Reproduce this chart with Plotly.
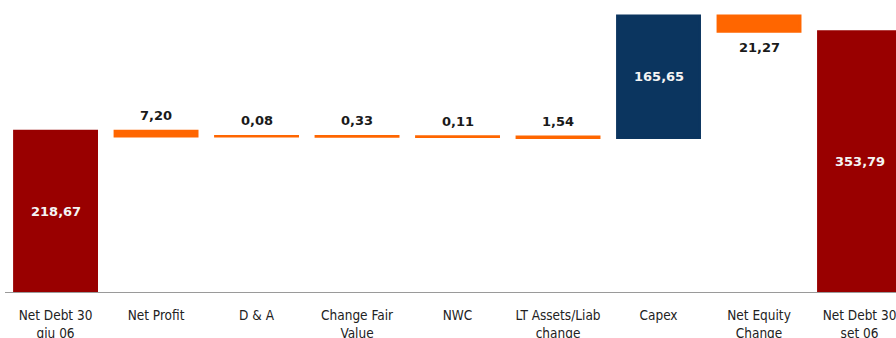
import plotly.graph_objects as go

# Net debt bridge, 30 giu 06 -> 30 set 06 (EUR m)
categories = ["Net Debt 30<br>giu 06", "Net Profit", "D & A", "Change Fair<br>Value", "NWC",
              "LT Assets/Liab<br>change", "Capex", "Net Equity<br>Change", "Net Debt 30<br>set 06"]
opening_debt = 218.67
movements = [-7.20, -0.08, -0.33, -0.11, -1.54, 165.65, -21.27]
closing_debt = 353.79

RED = "#990000"
ORANGE = "#FF6600"
NAVY = "#0B355F"

def fmt(v):
    return f"{abs(v):.2f}".replace(".", ",")

# build floating bars: base + height for every step
bases, heights, colors = [opening_debt * 0], [opening_debt], [RED]
level = opening_debt
for m in movements:
    lo = min(level, level + m)
    bases.append(lo)
    heights.append(abs(m))
    colors.append(NAVY if m > 0 else ORANGE)
    level += m
bases.append(0)
heights.append(closing_debt)
colors.append(RED)

xs = list(range(len(categories)))

fig = go.Figure()
fig.add_trace(go.Bar(
    x=xs, y=heights, base=bases, width=0.82,
    marker=dict(color=colors, line=dict(color=colors, width=2.5)),
    hoverinfo="skip",
))

annotations = []
font_lbl = dict(family="DejaVu Sans", size=13, color="#1a1a1a")
font_in = dict(family="DejaVu Sans", size=13, color="#f4f4f4")
# totals and the increase: label inside the bar
inside_idx = [0, 6, len(categories) - 1]
all_vals = [opening_debt] + movements + [closing_debt]
for i, (b, h, v) in enumerate(zip(bases, heights, all_vals)):
    txt = "<b>" + fmt(v) + "</b>"
    if i in inside_idx:
        annotations.append(dict(x=i, y=b + h / 2, text=txt, showarrow=False,
                                font=font_in, xref="x", yref="y"))
    elif v < -10:
        annotations.append(dict(x=i, y=b, text=txt, showarrow=False, yanchor="top",
                                yshift=-6, font=font_lbl, xref="x", yref="y"))
    else:
        annotations.append(dict(x=i, y=b + h, text=txt, showarrow=False, yanchor="bottom",
                                yshift=6, font=font_lbl, xref="x", yref="y"))

fig.update_layout(
    width=896, height=338,
    margin=dict(l=5, r=0, t=0, b=46, autoexpand=False),
    paper_bgcolor="white", plot_bgcolor="white",
    showlegend=False,
    annotations=annotations,
    xaxis=dict(
        range=[-0.503, 8.363], tickmode="array", tickvals=xs, ticktext=categories,
        showgrid=False, zeroline=False, showline=True, linecolor="#9a9a9a", linewidth=1,
        ticks="", tickfont=dict(family="DejaVu Sans Condensed, DejaVu Sans", size=13.5,
                                color="#222222"),
        ticklabelstandoff=11, ticklabeloverflow="allow", automargin=False,
    ),
    yaxis=dict(range=[0, 396.6], visible=False, showgrid=False, zeroline=False,
               automargin=False),
)

fig.write_html("out.html")
